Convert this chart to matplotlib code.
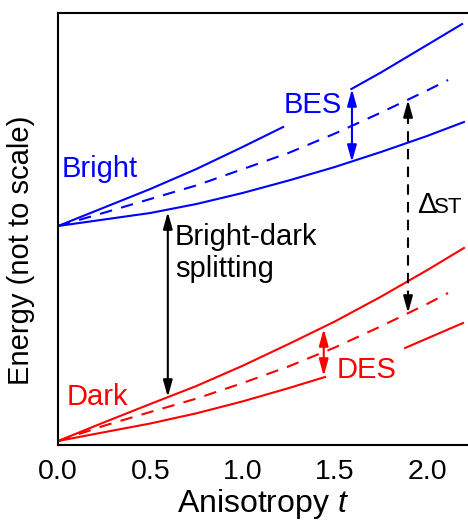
import numpy as np
import matplotlib
matplotlib.use('Agg')
import matplotlib.pyplot as plt

plt.rcParams['font.family'] = ['Liberation Sans', 'DejaVu Sans']
plt.rcParams['mathtext.fontset'] = 'custom'
plt.rcParams['mathtext.rm'] = 'Liberation Sans'
plt.rcParams['mathtext.it'] = 'Liberation Sans:italic'

BLUE = '#0000ff'
RED = '#ff0000'

# anisotropy grid and energies (arbitrary units)
t_grid = [0.0, 0.25, 0.5, 0.75, 1.0, 1.25, 1.5, 1.75, 2.0, 2.2]
bright_lower = [2.19, 2.255, 2.32, 2.41, 2.52, 2.645, 2.78, 2.93, 3.09, 3.23]
dark_upper = [0.04, 0.227, 0.41, 0.59, 0.792, 1.01, 1.235, 1.483, 1.748, 1.97]

t_bright_up1 = [0.0, 0.25, 0.5, 0.75, 1.0, 1.22]
bright_up1 = [2.19, 2.375, 2.56, 2.76, 2.98, 3.18]
t_bright_up2 = [1.59, 1.75, 2.0, 2.19]
bright_up2 = [3.56, 3.725, 4.0, 4.21]

t_mid = [0.0, 0.25, 0.5, 0.75, 1.0, 1.25, 1.5, 1.75, 2.0, 2.114]
bright_mid = [2.19, 2.323, 2.46, 2.596, 2.758, 2.921, 3.114, 3.324, 3.545, 3.65]
dark_mid = [0.04, 0.193, 0.33, 0.464, 0.619, 0.786, 0.975, 1.187, 1.41, 1.52]

t_dark_low1 = [0.0, 0.25, 0.5, 0.75, 1.0, 1.25, 1.447]
dark_low1 = [0.04, 0.128, 0.215, 0.317, 0.436, 0.569, 0.68]
t_dark_low2 = [1.881, 2.0, 2.195]
dark_low2 = [0.97, 1.065, 1.22]

# arrows: (t, E_top, E_bottom)
bd_arrow = (0.595, 2.33, 0.48)
bes_arrow = (1.593, 3.56, 2.83)
des_arrow = (1.44, 1.16, 0.69)
dst_arrow = (1.897, 3.45, 1.32)

fig = plt.figure(figsize=(4.68, 5.22), dpi=100)
ax = fig.add_axes([0.124, 0.1475, 0.876, 0.8276])

lw = 1.5
dash = (6, 4.5)
ax.plot(t_grid, bright_lower, color=BLUE, lw=lw)
ax.plot(t_bright_up1, bright_up1, color=BLUE, lw=lw)
ax.plot(t_bright_up2, bright_up2, color=BLUE, lw=lw)
ax.plot(t_mid, bright_mid, color=BLUE, lw=lw, dashes=dash)

ax.plot(t_grid, dark_upper, color=RED, lw=lw)
ax.plot(t_dark_low1, dark_low1, color=RED, lw=lw)
ax.plot(t_dark_low2, dark_low2, color=RED, lw=lw)
ax.plot(t_mid, dark_mid, color=RED, lw=lw, dashes=dash)


def double_arrow(a, color):
    t, top, bot = a
    ax.annotate('', xy=(t, top), xytext=(t, bot),
                arrowprops=dict(arrowstyle='<|-|>,head_length=1.0,head_width=0.28',
                                color=color, lw=lw, shrinkA=0, shrinkB=0,
                                mutation_scale=10))


double_arrow(bd_arrow, 'black')
double_arrow(bes_arrow, BLUE)
double_arrow(des_arrow, RED)

# dashed Delta_ST arrow: dashed shaft plus two heads
t, top, bot = dst_arrow
hl = 0.12
ax.plot([t, t], [bot + hl, top - hl], color='black', lw=lw, dashes=(5, 3.5))
for tip, tail in [(top, top - hl), (bot, bot + hl)]:
    ax.annotate('', xy=(t, tip), xytext=(t, tail),
                arrowprops=dict(arrowstyle='-|>,head_length=1.0,head_width=0.28',
                                color='black', lw=lw, shrinkA=0, shrinkB=0,
                                mutation_scale=10))

fs = 21
ax.text(0.022, 2.68, 'Bright', color=BLUE, fontsize=fs, va='baseline')
ax.text(1.22, 3.32, 'BES', color=BLUE, fontsize=fs, va='baseline')
ax.text(0.634, 1.68, 'Bright-dark\nsplitting', color='black', fontsize=fs,
        va='baseline', linespacing=1.2)
ax.text(0.047, 0.40, 'Dark', color=RED, fontsize=fs, va='baseline')
ax.text(1.512, 0.67, 'DES', color=RED, fontsize=fs, va='baseline')
ax.text(1.946, 2.32, '\u0394', color='black', fontsize=21, va='baseline')
ax.text(2.04, 2.32, 'ST', color='black', fontsize=16, va='baseline')

ax.set_xlim(0, 2.222)
ax.set_ylim(0, 4.32)
ax.set_xticks([0.0, 0.5, 1.0, 1.5, 2.0])
ax.set_xticklabels(['0.0', '0.5', '1.0', '1.5', '2.0'])
ax.set_yticks([])
ax.tick_params(axis='x', length=0, pad=10, labelsize=20.5)
ax.spines['right'].set_visible(False)
for s in ['left', 'top', 'bottom']:
    ax.spines[s].set_linewidth(1.5)

ax.set_xlabel(r'Anisotropy $\mathit{t}$', fontsize=23)
ax.xaxis.label.set_va('baseline')
ax.xaxis.set_label_coords(0.5, -0.155)
ax.set_ylabel('Energy (not to scale)', fontsize=21)
ax.yaxis.set_label_coords(-0.055, 0.451)

fig.savefig('out.png', dpi=100)
